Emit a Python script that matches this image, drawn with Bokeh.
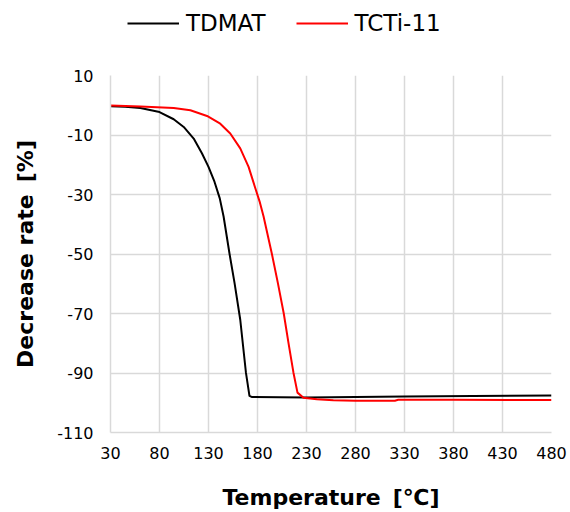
from bokeh.plotting import figure
from bokeh.layouts import column
from bokeh.models import Legend, LegendItem, FixedTicker, Range1d
from bokeh.embed import file_html
from bokeh.resources import INLINE

# ---- data ----
tdmat_temp = [30, 45, 60.5, 80, 94.5, 104.7, 114.9, 123.4, 130, 136.1, 141.5,
              145.4, 151.5, 156.6, 162.4, 168.2, 171.8, 174.5, 230, 330, 400, 480]
tdmat_rate = [-0.3, -0.5, -0.95, -2.3, -4.7, -7.3, -11.2, -16.2, -20.7, -25.7, -31.3,
              -37.4, -50.0, -59.8, -72.1, -89.9, -97.7, -98.1, -98.2, -97.9, -97.7, -97.6]

tcti_temp = [30, 60.5, 94.5, 111.5, 128.5, 142, 152.2, 162.4, 170.9, 177.7, 182.1,
             186.2, 194.7, 200.8, 206.8, 211.6, 216.7, 220.8, 226.9, 240.5, 257.4,
             280, 320.2, 323.6, 380, 480]
tcti_rate = [-0.1, -0.4, -0.95, -1.7, -3.6, -6.2, -9.5, -14.5, -20.7, -27.8, -32.3,
             -37.4, -50.0, -59.8, -70.0, -79.9, -89.9, -96.6, -98.3, -98.8, -99.2,
             -99.3, -99.3, -99.0, -99.0, -99.1]

x_ticks = [30, 80, 130, 180, 230, 280, 330, 380, 430, 480]
y_ticks = [-110, -90, -70, -50, -30, -10, 10]

series_names = ["TDMAT", "TCTi-11"]
series_colors = ["black", "#ff0000"]

GRID = "#d9d9d9"
TOP_H = 65

# ---- main chart ----
p = figure(width=570, height=512 - TOP_H, output_backend="svg", toolbar_location=None,
           x_range=Range1d(30, 480), y_range=Range1d(-110, 10),
           min_border_left=110, min_border_right=19, min_border_top=75 - TOP_H,
           min_border_bottom=79)
p.outline_line_color = None
p.background_fill_color = "white"

r1 = p.line(tdmat_temp, tdmat_rate, line_color=series_colors[0], line_width=2,
            line_join="round")
r2 = p.line(tcti_temp, tcti_rate, line_color=series_colors[1], line_width=2,
            line_join="round")

for ax in (p.xaxis[0], p.yaxis[0]):
    ax.axis_line_color = GRID
    ax.axis_line_width = 1.5
    ax.major_tick_line_color = None
    ax.minor_tick_line_color = None
    ax.major_tick_in = 0
    ax.major_tick_out = 0
    ax.minor_tick_out = 0
    ax.major_label_text_font = "DejaVu Sans"
    ax.major_label_text_font_size = "16px"
    ax.major_label_text_color = "black"
    ax.axis_label_text_font = "DejaVu Sans"
    ax.axis_label_text_font_style = "bold"
    ax.axis_label_text_font_size = "22px"
    ax.axis_label_text_color = "black"

p.xaxis[0].ticker = FixedTicker(ticks=x_ticks)
p.yaxis[0].ticker = FixedTicker(ticks=y_ticks)
p.xaxis[0].major_label_overrides = {t: str(t) for t in x_ticks}
p.yaxis[0].major_label_overrides = {t: str(t) for t in y_ticks}
p.xaxis[0].axis_label = "Temperature \u2009[\u2103]"
p.yaxis[0].axis_label = "Decrease rate \u2009[%]"
p.xaxis[0].major_label_standoff = 14
p.xaxis[0].axis_label_standoff = 23
p.yaxis[0].major_label_standoff = 17
p.yaxis[0].axis_label_standoff = 16

for g in (p.xgrid[0], p.ygrid[0]):
    g.grid_line_color = GRID
    g.grid_line_width = 1.5
p.xgrid[0].ticker = FixedTicker(ticks=x_ticks)
p.ygrid[0].ticker = FixedTicker(ticks=y_ticks)

# ---- legend strip on top (proxy lines sit outside its visible range) ----
lg = figure(width=570, height=TOP_H, output_backend="svg", toolbar_location=None,
            x_range=Range1d(30, 480), y_range=Range1d(1000, 1001),
            min_border_left=0, min_border_right=0, min_border_top=0,
            min_border_bottom=0)
lg.axis.visible = False
lg.grid.visible = False
lg.outline_line_color = None
d1 = lg.line(tdmat_temp, tdmat_rate, line_color=series_colors[0], line_width=2)
d2 = lg.line(tcti_temp, tcti_rate, line_color=series_colors[1], line_width=2)

legend = Legend(items=[LegendItem(label=series_names[0], renderers=[d1]),
                       LegendItem(label=series_names[1], renderers=[d2])],
                orientation="horizontal", location=(17, TOP_H - 22 - 14))
legend.label_text_font = "DejaVu Sans"
legend.label_text_font_size = "23px"
legend.label_text_color = "black"
legend.glyph_width = 52
legend.label_standoff = 7
legend.spacing = 30
legend.padding = 0
legend.margin = 0
legend.border_line_color = None
legend.background_fill_alpha = 0
lg.add_layout(legend, "center")

layout = column(lg, p, spacing=0)
open("out.html", "w").write(file_html(layout, INLINE))
